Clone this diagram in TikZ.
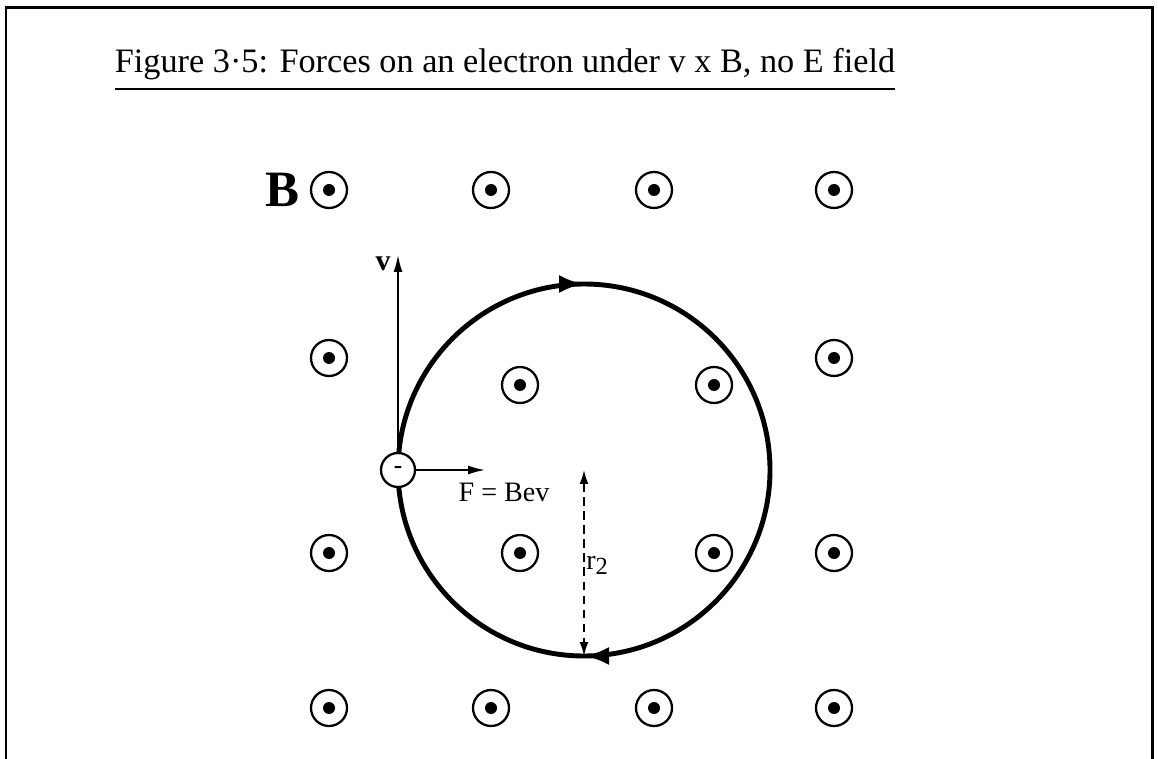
\documentclass[tikz,border=0pt]{standalone}
\usepackage{fontspec}
\setmainfont{Liberation Serif}
\usetikzlibrary{arrows.meta,decorations.markings}

\begin{document}
\begin{tikzpicture}[
  x=0.02cm,y=0.02cm,
  every node/.style={inner sep=0pt},
  bfield/.style={circle,draw=black,line width=1.3pt,minimum size=0.72cm,
                 path picture={\fill (path picture bounding box.center) circle (0.12cm);}},
  elec/.style ={circle,draw=black,line width=1.3pt,minimum size=0.68cm,fill=white,
                font=\bfseries\Large},
  orbit/.style={line width=2.8pt,
                decoration={markings,
                  mark=at position 0.25 with {\arrow{Latex[length=5mm,width=3.6mm]}},
                  mark=at position 0.75 with {\arrow{Latex[length=5mm,width=3.6mm]}}},
                postaction={decorate}},
  vec/.style  ={-{Latex[length=3.4mm,width=1.8mm]},line width=0.9pt},
  rad/.style  ={{Latex[length=2.8mm,width=1.8mm]}-{Latex[length=2.8mm,width=1.8mm]},
                line width=1pt,dash pattern=on 5pt off 3pt},
  lab/.style  ={font=\fontsize{16}{18}\selectfont},
]
\useasboundingbox (0,0) rectangle (1158,-759);
% frame, open at the bottom
\draw[line width=1.7pt] (6,-759) -- (6,-8) -- (1152,-8) -- (1152,-759);

\node[font=\fontsize{19.5}{22}\selectfont] at (505,-64) (title)
  {Figure 3·5: Forces on an electron under v x B, no E field};
\draw[line width=1.2pt] ([yshift=-5pt]title.south west) -- ([yshift=-5pt]title.south east);

% field out of the page
\node[font=\fontsize{29}{32}\bfseries\selectfont] at (282,-190) (blab) {B};
\foreach \name/\px/\py in {a1/329/190, a2/491/190, a3/654/190, a4/834/190,
                           b1/329/358, b4/834/358, b2/520/385, b3/714/385,
                           c1/329/553, c4/834/553, c2/520/553, c3/714/553,
                           d1/329/708, d2/491/708, d3/654/708, d4/834/708}
  \node[bfield] at (\px,-\py) (\name) {};

% orbit, clockwise
\coordinate (ctr) at (584,-470);
\draw[orbit] (398,-470) arc[start angle=180,end angle=-180,radius=186];
\coordinate (rbot) at (584,-656);
\draw[rad] (ctr) -- (rbot);
\node[lab,anchor=west] at (586,-565) (rlab) {r\raisebox{-0.4ex}{\fontsize{14}{16}\selectfont 2}};

% the electron
\node[elec] at (398,-470) (e) {-};
\coordinate (vtip) at (398,-255);
\coordinate (ftip) at (485,-470);
\draw[vec] (e.north) -- (vtip);
\draw[vec] (e.east) -- (ftip);
\node[font=\fontsize{17}{19}\bfseries\selectfont] at (383,-264) (vlab) {v};
\node[lab] at (504,-492) (flab) {F = Bev};
\end{tikzpicture}
\end{document}
